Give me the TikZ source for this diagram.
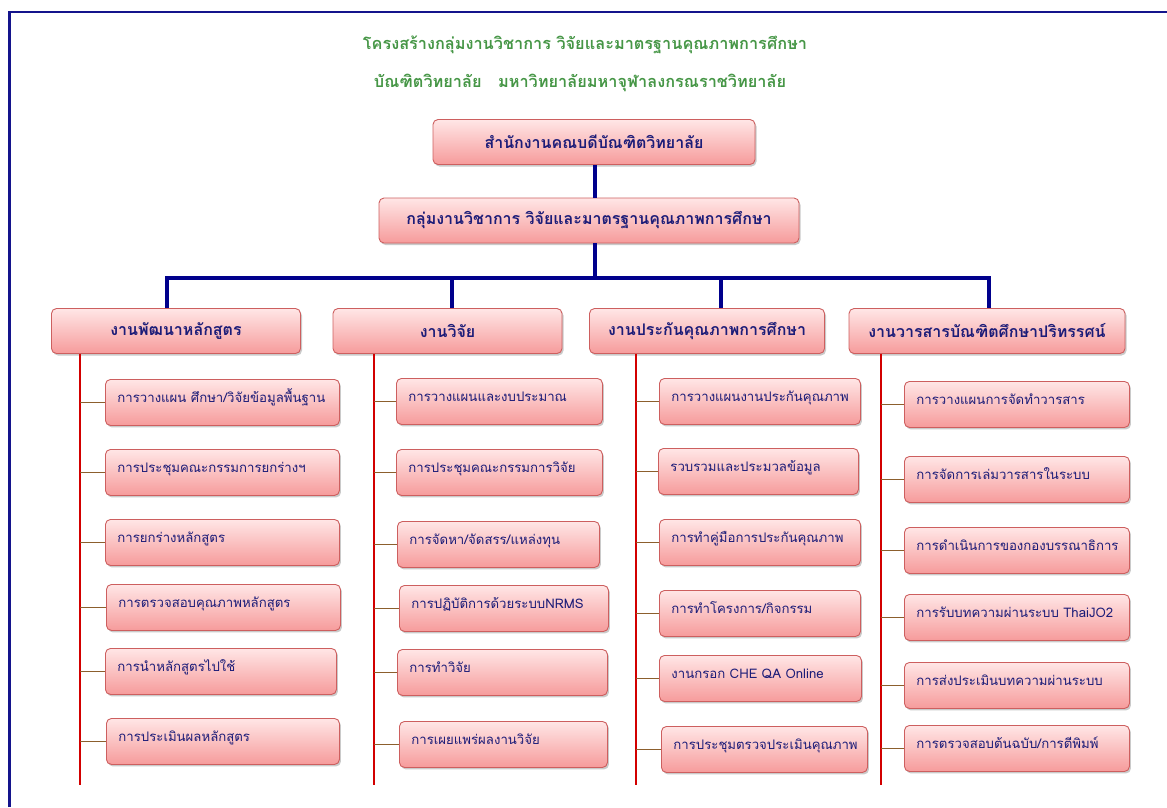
\documentclass[tikz,border=0pt]{standalone}
\usepackage{fontspec}
\newfontfamily\thaifont[Script=Thai]{Loma}
\usetikzlibrary{positioning,shadows}

\definecolor{frameblue}{RGB}{20,20,140}
\definecolor{trunkblue}{RGB}{0,0,140}
\definecolor{stemred}{RGB}{210,0,0}
\definecolor{twigbrown}{RGB}{140,95,45}
\definecolor{boxtop}{RGB}{255,230,230}
\definecolor{boxbot}{RGB}{246,155,155}
\definecolor{boxedge}{RGB}{205,95,95}
\definecolor{boxtext}{RGB}{28,28,120}
\definecolor{titlegreen}{RGB}{70,150,70}

\tikzset{
  box/.style={draw=boxedge, line width=0.9pt, rounded corners=5pt,
    top color=boxtop, bottom color=boxbot, text=boxtext, inner sep=0pt,
    drop shadow={shadow xshift=1.5pt, shadow yshift=-2pt, opacity=0.35, fill=black!60}},
  head/.style={box, minimum height=45pt, font=\thaifont\bfseries\fontsize{16}{18}\selectfont},
  task/.style={box, anchor=north west, minimum height=46pt, inner xsep=12pt,
    text width=#1, align=left, text height=10pt, text depth=10pt,
    execute at begin node=\leavevmode\hbox\bgroup, execute at end node=\egroup,
    font=\thaifont\fontsize{13.2}{15}\selectfont},
  titletext/.style={text=titlegreen, font=\thaifont\bfseries\fontsize{16.3}{19}\selectfont},
  trunk/.style={trunkblue, line width=3.5pt},
  stem/.style={stemred, line width=1.4pt},
  twig/.style={twigbrown, line width=1pt}
}

\begin{document}
\begin{tikzpicture}[x=1pt,y=-1pt]
  \useasboundingbox (0,0) rectangle (1167,807);
  \draw[frameblue, line width=2.5pt] (9.5,807) -- (9.5,12) -- (1167,12);

  % title
  \node[titletext] (title1) at (585,45) {โครงสร้างกลุ่มงานวิชาการ วิจัยและมาตรฐานคุณภาพการศึกษา};
  \node[titletext] (title2) at (580,83) {บัณฑิตวิทยาลัย~~ มหาวิทยาลัยมหาจุฬาลงกรณราชวิทยาลัย};

  % upper levels
  \node[head, minimum width=322pt] (dean)  at (594,142)   {สำนักงานคณบดีบัณฑิตวิทยาลัย};
  \node[head, minimum width=420pt] (group) at (589,220.5) {กลุ่มงานวิชาการ วิจัยและมาตรฐานคุณภาพการศึกษา};

  \node[head, minimum width=249pt] (curr) at (176,331)   {งานพัฒนาหลักสูตร};
  \node[head, minimum width=229pt] (res)  at (447.5,331) {งานวิจัย};
  \node[head, minimum width=235pt] (qa)   at (707,331)   {งานประกันคุณภาพการศึกษา};
  \node[head, minimum width=276pt] (jour) at (987,331)   {งานวารสารบัณฑิตศึกษาปริทรรศน์};

  \coordinate (bus)  at (595,278);
  \coordinate (bus1) at (167,278);
  \coordinate (bus2) at (452,278);
  \coordinate (bus3) at (721,278);
  \coordinate (bus4) at (989,278);
  \draw[trunk] (dean.south -| bus) -- (group.north -| bus);
  \draw[trunk] (group.south -| bus) -- (bus);
  \draw[trunk] (curr.north -| bus1) -- (bus1) -- (bus4) -- (jour.north -| bus4);
  \draw[trunk] (res.north -| bus2) -- (bus2);
  \draw[trunk] (qa.north -| bus3) -- (bus3);

  % curriculum
  \coordinate (s1) at (80,785);
  \node[task=210pt] (c1) at (105,379) {การวางแผน ศึกษา/วิจัยข้อมูลพื้นฐาน};
  \node[task=210pt] (c2) at (105,449) {การประชุมคณะกรรมการยกร่างฯ};
  \node[task=210pt] (c3) at (105,519) {การยกร่างหลักสูตร};
  \node[task=210pt] (c4) at (106,584) {การตรวจสอบคุณภาพหลักสูตร};
  \node[task=207pt] (c5) at (105,648) {การนำหลักสูตรไปใช้};
  \node[task=209pt] (c6) at (106,718) {การประเมินผลหลักสูตร};

  % research
  \coordinate (s2) at (374,785);
  \node[task=182pt] (r1) at (396,378) {การวางแผนและงบประมาณ};
  \node[task=182pt] (r2) at (396,449) {การประชุมคณะกรรมการวิจัย};
  \node[task=178pt] (r3) at (397,521) {การจัดหา/จัดสรร/แหล่งทุน};
  \node[task=185pt] (r4) at (399,585) {การปฏิบัติการด้วยระบบNRMS};
  \node[task=186pt] (r5) at (397,649) {การทำวิจัย};
  \node[task=184pt] (r6) at (399,721) {การเผยแพร่ผลงานวิจัย};

  % quality assurance
  \coordinate (s3) at (636,785);
  \node[task=177pt] (q1) at (659,378) {การวางแผนงานประกันคุณภาพ};
  \node[task=176pt] (q2) at (658,448) {รวบรวมและประมวลข้อมูล};
  \node[task=177pt] (q3) at (659,519) {การทำคู่มือการประกันคุณภาพ};
  \node[task=177pt] (q4) at (659,590) {การทำโครงการ/กิจกรรม};
  \node[task=178pt] (q5) at (659,655) {งานกรอก CHE QA Online};
  \node[task=182pt] (q6) at (661,726) {การประชุมตรวจประเมินคุณภาพ};

  % journal
  \coordinate (s4) at (881,785);
  \node[task=201pt] (j1) at (904,381) {การวางแผนการจัดทำวารสาร};
  \node[task=201pt] (j2) at (904,456) {การจัดการเล่มวารสารในระบบ};
  \node[task=201pt] (j3) at (904,527) {การดำเนินการของกองบรรณาธิการ};
  \node[task=201pt] (j4) at (904,594) {การรับบทความผ่านระบบ ThaiJO2};
  \node[task=201pt] (j5) at (904,662) {การส่งประเมินบทความผ่านระบบ};
  \node[task=201pt] (j6) at (904,725) {การตรวจสอบต้นฉบับ/การตีพิมพ์};

  \draw[stem] (curr.south -| s1) -- (s1);
  \draw[stem] (res.south -| s2) -- (s2);
  \draw[stem] (qa.south -| s3) -- (s3);
  \draw[stem] (jour.south -| s4) -- (s4);

  \foreach \k/\s in {c/s1,r/s2,q/s3,j/s4}{
    \foreach \i in {1,...,6}{
      \draw[twig] (\k\i.west) -- (\k\i.west -| \s);
    }
  }
\end{tikzpicture}
\end{document}
